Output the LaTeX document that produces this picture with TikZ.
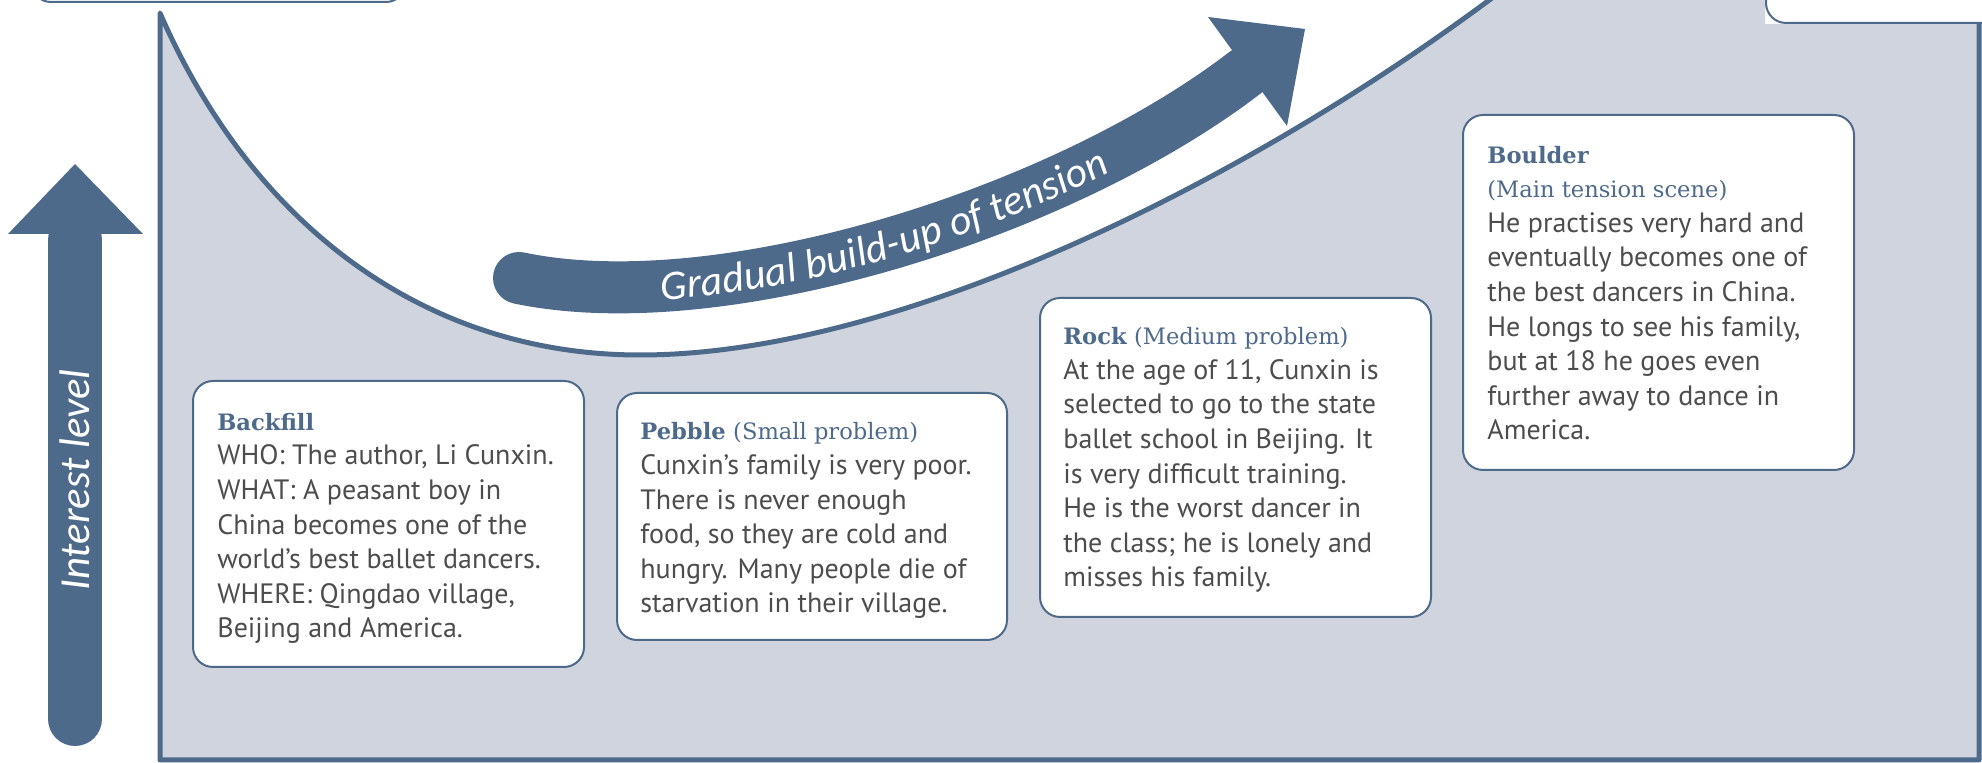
\documentclass[tikz,border=0pt]{standalone}
\usepackage{fontspec}
\setmainfont{PT Sans}
\newfontfamily\slabfont{DejaVu Serif}
\newfontfamily\curvefont{Carlito}
\usetikzlibrary{decorations.text}
\definecolor{navy}{HTML}{4E6A8B}
\definecolor{paleblue}{HTML}{CFD4DF}
\definecolor{bodygray}{HTML}{4D4D4D}
\tikzset{
  frameline/.style={draw=navy, line width=2.5pt, line join=round},
  storybox/.style={draw=navy, fill=white, line width=1pt, rounded corners=10pt, inner sep=0pt},
  boxtext/.style={anchor=base west, align=left, inner sep=0pt, text=bodygray, font=\fontsize{14}{17.3}\selectfont},
  bandline/.style={draw=navy, line width=26pt, line cap=round},
}
\newcommand\boxhead[1]{{\slabfont\bfseries\fontsize{11.3}{17.3}\selectfont\color{navy}#1}}
\newcommand\boxsubhead[1]{{\slabfont\fontsize{11.3}{17.3}\selectfont\color{navy}#1}}
\begin{document}
\begin{tikzpicture}[x=0.5pt,y=-0.5pt]
\useasboundingbox (0,0) rectangle (1982,763);
\begin{scope}
\clip (0,0) rectangle (1982,763);
% grey area
\fill[paleblue] (160,13) .. controls (250,220) and (420,355) .. (640,355)
  .. controls (900,355) and (1250,180) .. (1500,-8) -- (1765,-8) -- (1765,24)
  -- (1979,24) -- (1979,760) -- (160,760) -- cycle;
\draw[frameline] (1979,24) -- (1979,760) -- (160,760) -- (160,13)
  .. controls (250,220) and (420,355) .. (640,355)
  .. controls (900,355) and (1250,180) .. (1500,-8);
% cropped boxes at the top
\node[storybox, anchor=south west, minimum width=187.5pt, minimum height=50pt] (topleft) at (30,3) {};
\node[storybox, anchor=south west, minimum width=150pt, minimum height=60pt] (topright) at (1765,24) {};
% interest level arrow
\draw[navy, line width=27pt, line cap=round] (75,719) -- (75,240);
\fill[navy] (8,234) -- (75,164) -- (143,234) -- cycle;
\node[rotate=90, text=white, inner sep=0pt, font=\curvefont\itshape\fontsize{21.4}{25}\selectfont] (interest) at (75,480) {Interest level};
% tension arrow
\draw[bandline] (519,278) .. controls (719,320) and (1060,215) .. (1246,72);
\fill[navy] (1208,17) -- (1305,29) -- (1287,126) -- cycle;
\path[decorate, decoration={text along path, text align={left indent=71pt}, raise=-7pt, text color=white,
  text={|\curvefont\itshape\fontsize{21}{25}\selectfont|Gradual build-up of tension}}]
  (519,278) .. controls (719,320) and (1060,215) .. (1246,72);
% story boxes
\node[storybox, anchor=north west, minimum width=195.5pt, minimum height=143pt] (backfillbox) at (192,380) {};
\node[storybox, anchor=north west, minimum width=195pt, minimum height=123.5pt] (pebblebox) at (616,392) {};
\node[storybox, anchor=north west, minimum width=195.5pt, minimum height=159.5pt] (rockbox) at (1039,297) {};
\node[storybox, anchor=north west, minimum width=195.5pt, minimum height=177.5pt] (boulderbox) at (1462,114) {};
\node[boxtext] (backfilltext) at (217,638) {\boxhead{Backfill}\\
WHO: The author, Li Cunxin.\\
WHAT: A peasant boy in\\
China becomes one of the\\
world’s best ballet dancers.\\
WHERE: Qingdao village,\\
Beijing and America.};
\node[boxtext] (pebbletext) at (640,613) {\boxhead{Pebble} \boxsubhead{(Small problem)}\\
Cunxin’s family is very poor.\\
There is never enough\\
food, so they are cold and\\
hungry. Many people die of\\
starvation in their village.};
\node[boxtext] (rocktext) at (1063,587) {\boxhead{Rock} \boxsubhead{(Medium problem)}\\
At the age of 11, Cunxin is\\
selected to go to the state\\
ballet school in Beijing. It\\
is very difficult training.\\
He is the worst dancer in\\
the class; he is lonely and\\
misses his family.};
\node[boxtext] (bouldertext) at (1487,440) {\boxhead{Boulder}\\
\boxsubhead{(Main tension scene)}\\
He practises very hard and\\
eventually becomes one of\\
the best dancers in China.\\
He longs to see his family,\\
but at 18 he goes even\\
further away to dance in\\
America.};
\end{scope}
\end{tikzpicture}
\end{document}
